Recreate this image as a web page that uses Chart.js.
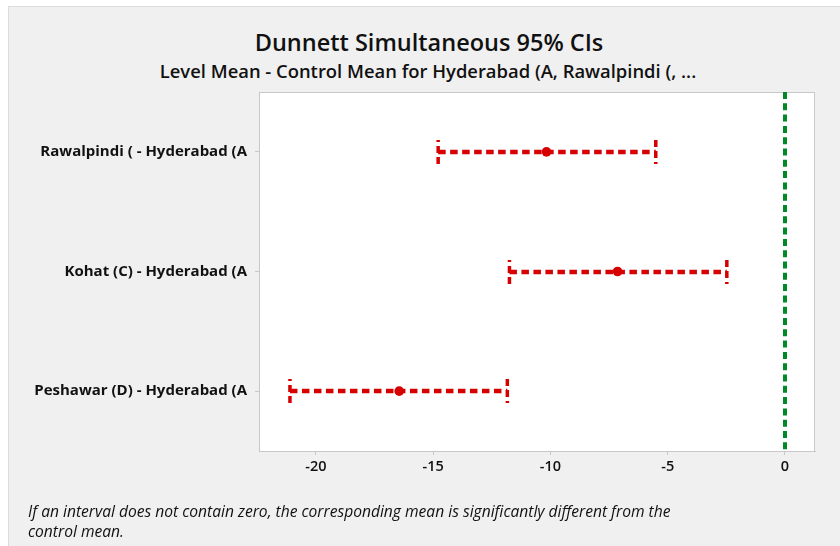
<!DOCTYPE html>
<html>
<head>
<meta charset="utf-8">
<script src="https://cdn.jsdelivr.net/npm/chart.js@4.4.0/dist/chart.umd.min.js"></script>
<style>
    html, body { margin: 0; padding: 0; background: #ffffff; }
    #wrap { position: relative; width: 840px; height: 546px; overflow: hidden; font-family: "Open Sans", "Noto Sans", sans-serif; color: #111; }
    #frame { position: absolute; left: 8px; top: 6px; right: -2px; bottom: -2px; background: #f0f0f0; border-left: 1px solid #dcdcdc; border-top: 1px solid #dcdcdc; }
    #title { position: absolute; left: 0; width: 858px; top: 26px; text-align: center; font-size: 23.5px; line-height: 32px; font-weight: 600; }
    #subtitle { position: absolute; left: 0; width: 856px; top: 59px; text-align: center; font-size: 18.4px; line-height: 24px; font-weight: 600; }
    #note { position: absolute; left: 28px; top: 501px; font-size: 15.6px; line-height: 20px; font-style: italic; }
    canvas { position: absolute; left: 0; top: 0; }
</style>
</head>
<body>
<div id="wrap">
    <div id="frame"></div>
    <div id="title">Dunnett Simultaneous 95% CIs</div>
    <div id="subtitle">Level Mean - Control Mean for Hyderabad (A, Rawalpindi (, ...</div>
    <canvas id="ciChart" width="840" height="546"></canvas>
    <div id="note">If an interval does not contain zero, the corresponding mean is significantly different from the<br>control mean.</div>
</div>
<script>
// comparisons vs control
const comparisons = ['Rawalpindi ( - Hyderabad (A', 'Kohat (C) - Hyderabad (A', 'Peshawar (D) - Hyderabad (A'];
const means = [-10.17, -7.14, -16.45];
const lowers = [-14.79, -11.75, -21.11];
const uppers = [-5.51, -2.48, -11.84];
const xTicks = [-20, -15, -10, -5, 0];
const controlLine = 0;

const RED = '#d60000';
const GREEN = '#008a27';
const AXIS = '#c8c8c8';
const FONT = '"Open Sans", "Noto Sans", sans-serif';

// draws the dashed intervals with their caps, plus the zero reference line
const intervalPlugin = {
    id: 'intervals',
    beforeDraw: (chart) => {
        const { ctx, chartArea } = chart;
        ctx.save();
        ctx.fillStyle = '#ffffff';
        ctx.fillRect(chartArea.left, chartArea.top, chartArea.right - chartArea.left, chartArea.bottom - chartArea.top);
        ctx.restore();
    },
    beforeDatasetsDraw: (chart) => {
        const { ctx, chartArea } = chart;
        const xs = chart.scales.x;
        const ys = chart.scales.y;

        ctx.save();
        ctx.strokeStyle = AXIS;
        ctx.lineWidth = 1;
        ctx.strokeRect(chartArea.left + 0.5, chartArea.top + 0.5, chartArea.right - chartArea.left - 1, chartArea.bottom - chartArea.top);

        // zero line
        const x0 = Math.round(xs.getPixelForValue(controlLine));
        ctx.strokeStyle = GREEN;
        ctx.lineWidth = 4;
        ctx.setLineDash([7, 4.3]);
        ctx.beginPath();
        ctx.moveTo(x0, chartArea.top);
        ctx.lineTo(x0, chartArea.bottom);
        ctx.stroke();

        ctx.strokeStyle = RED;
        for (let i = 0; i < comparisons.length; i++) {
            const y = Math.round(ys.getPixelForValue(i));
            const xl = xs.getPixelForValue(lowers[i]);
            const xu = xs.getPixelForValue(uppers[i]);

            ctx.lineWidth = 4.5;
            ctx.setLineDash([7.5, 4.5]);
            ctx.beginPath();
            ctx.moveTo(xl, y);
            ctx.lineTo(xu, y);
            ctx.stroke();

            ctx.lineWidth = 3.5;
            ctx.setLineDash([7, 4]);
            ctx.beginPath();
            ctx.moveTo(xl, y + 12);
            ctx.lineTo(xl, y - 12);
            ctx.stroke();
            ctx.beginPath();
            ctx.moveTo(xu, y - 12);
            ctx.lineTo(xu, y + 12);
            ctx.stroke();
        }
        ctx.restore();
    }
};

new Chart(document.getElementById('ciChart').getContext('2d'), {
    type: 'scatter',
    data: {
        datasets: [{
            label: 'Mean',
            data: means.map((m, i) => ({ x: m, y: comparisons[i] })),
            pointRadius: 4.8,
            pointHoverRadius: 4.8,
            pointBackgroundColor: RED,
            pointBorderColor: RED,
            pointBorderWidth: 0
        }]
    },
    options: {
        responsive: false,
        devicePixelRatio: 1,
        animation: false,
        layout: { padding: { left: 0, top: 92, right: 25, bottom: 65 } },
        plugins: {
            legend: { display: false },
            tooltip: { enabled: false }
        },
        scales: {
            x: {
                type: 'linear',
                min: -22.43,
                max: 1.28,
                afterBuildTicks: (scale) => { scale.ticks = xTicks.map(v => ({ value: v })); },
                afterFit: (scale) => { scale.height = 30; },
                grid: { drawOnChartArea: false, drawTicks: true, tickLength: 4, color: AXIS },
                border: { display: true, color: AXIS },
                ticks: {
                    color: '#111',
                    padding: 3,
                    font: { family: FONT, size: 14.5, weight: '600' }
                }
            },
            y: {
                type: 'category',
                labels: comparisons,
                offset: true,
                afterFit: (scale) => { scale.width = 259; },
                grid: { drawOnChartArea: false, drawTicks: true, tickLength: 4, color: AXIS, offset: false },
                border: { display: true, color: AXIS },
                ticks: {
                    color: '#111',
                    padding: 8,
                    font: { family: FONT, size: 15, weight: 'bold' }
                }
            }
        }
    },
    plugins: [intervalPlugin]
});
</script>
</body>
</html>
